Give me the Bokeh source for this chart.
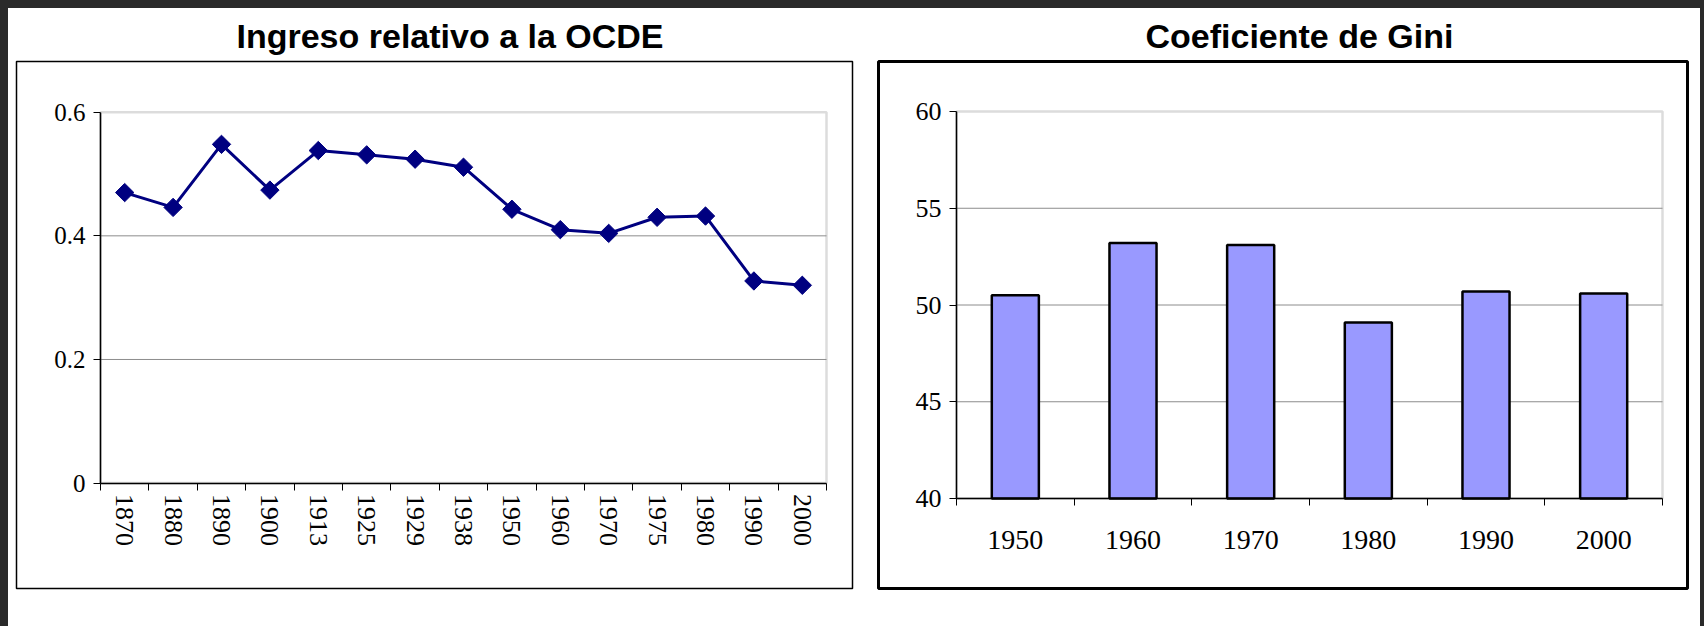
import math
from bokeh.plotting import figure
from bokeh.models import Range1d, FixedTicker, BoxAnnotation
from bokeh.layouts import row
from bokeh.embed import file_html
from bokeh.resources import INLINE

# ---------------- data ----------------
ingreso_years = ["1870", "1880", "1890", "1900", "1913", "1925", "1929", "1938",
                 "1950", "1960", "1970", "1975", "1980", "1990", "2000"]
ingreso_values = [0.470, 0.446, 0.548, 0.474, 0.538, 0.531, 0.524, 0.511,
                  0.443, 0.410, 0.404, 0.430, 0.432, 0.327, 0.320]
ingreso_ticks = [0.0, 0.2, 0.4, 0.6]
ingreso_tick_labels = ["0", "0.2", "0.4", "0.6"]

gini_years = ["1950", "1960", "1970", "1980", "1990", "2000"]
gini_values = [50.5, 53.2, 53.1, 49.1, 50.7, 50.6]
gini_ticks = [40.0, 45.0, 50.0, 55.0, 60.0]
gini_tick_labels = ["40", "45", "50", "55", "60"]

title_left = "Ingreso relativo a la OCDE"
title_right = "Coeficiente de Gini"

SERIF = "Liberation Serif"
SANS = "Liberation Sans"
GRAY = "#8c8c8c"
H = 618


def outer_range(d0, d1, p0, p1, f0, f1):
    # extend a data span [d0, d1] drawn at pixels [p0, p1] to the frame pixels [f0, f1]
    k = (d1 - d0) / (p1 - p0)
    return d0 + (f0 - p0) * k, d0 + (f1 - p0) * k


def make_chart(width, frame, area, cats, yticks, ylabels, title, box_width,
               xfont, yfont, xorient, xstandoff, title_offset):
    fl, fr, ft, fb = frame          # frame (= framed box) in figure pixels
    al, ar, at, ab = area           # plot area in figure pixels
    n = len(cats)
    y0, y1 = yticks[0], yticks[-1]
    xr = outer_range(0, n, al, ar, fl, fr)
    yr = outer_range(y0, y1, ab, at, fb, ft)
    p = figure(width=width, height=H, x_range=Range1d(*xr), y_range=Range1d(*yr),
               output_backend="svg", toolbar_location=None,
               min_border_left=fl, min_border_right=width - fr,
               min_border_top=ft, min_border_bottom=H - fb,
               background_fill_color="white", border_fill_color="white")
    # the framed box
    p.outline_line_color = "black"
    p.outline_line_width = box_width
    p.grid.visible = False

    # title
    p.title.text = title
    p.title.align = "left"
    p.title.offset = title_offset
    p.title.text_font = SANS
    p.title.text_font_style = "bold"
    p.title.text_font_size = "34px"
    p.title.text_color = "black"
    p.title.standoff = 13

    # plot area border (gray)
    p.add_layout(BoxAnnotation(left=0, right=n, bottom=y0, top=y1, fill_color="white",
                               line_color=GRAY, line_width=2.5, level="underlay"))
    # horizontal gridlines at the inner ticks
    inner = yticks[1:-1]
    p.segment(x0=[0] * len(inner), y0=inner, x1=[n] * len(inner), y1=inner,
              line_color=GRAY, line_width=1)

    centers = [i + 0.5 for i in range(n)]
    xa = p.xaxis[0]
    xa.fixed_location = y0
    xa.bounds = (0, n)
    xa.ticker = FixedTicker(ticks=centers, minor_ticks=list(range(n + 1)))
    xa.major_label_overrides = {c: lab for c, lab in zip(centers, cats)}
    xa.major_tick_line_color = None
    xa.major_tick_out = 0
    xa.major_tick_in = 0
    xa.minor_tick_line_color = "black"
    xa.minor_tick_out = 7
    xa.minor_tick_in = 0
    xa.axis_line_color = "black"
    xa.axis_line_width = 1.5
    xa.major_label_text_font = SERIF
    xa.major_label_text_font_size = xfont
    xa.major_label_text_color = "black"
    xa.major_label_orientation = xorient
    xa.major_label_standoff = xstandoff

    ya = p.yaxis[0]
    ya.fixed_location = 0
    ya.bounds = (y0, y1)
    ya.ticker = FixedTicker(ticks=yticks)
    ya.major_label_overrides = {t: lab for t, lab in zip(yticks, ylabels)}
    ya.major_tick_line_color = "black"
    ya.major_tick_out = 7
    ya.major_tick_in = 0
    ya.minor_tick_line_color = None
    ya.axis_line_color = "black"
    ya.axis_line_width = 1.5
    ya.major_label_text_font = SERIF
    ya.major_label_text_font_size = yfont
    ya.major_label_text_color = "black"
    ya.major_label_standoff = 8
    return p, centers


# ---------------- left chart ----------------
p1, c1 = make_chart(857, (8, 844, 52, 582), (92, 818, 103, 476),
                    ingreso_years, ingreso_ticks, ingreso_tick_labels, title_left, 1.5,
                    "26px", "25px", "vertical", 4, 220)
p1.line(c1, ingreso_values, line_color="#000080", line_width=3)
p1.scatter(c1, ingreso_values, marker="square", size=13, angle=math.pi / 4,
           fill_color="#000080", line_color="#000080")

# ---------------- right chart ----------------
p2, c2 = make_chart(835, (13, 822, 53, 580), (91, 797, 103, 490),
                    gini_years, gini_ticks, gini_tick_labels, title_right, 3,
                    "28px", "26px", "horizontal", 25, 267)
p2.vbar(x=c2, top=gini_values, bottom=gini_ticks[0], width=0.4, fill_color="#9999FF",
        line_color="black", line_width=2.5)

layout = row(p1, p2)

html = file_html(layout, INLINE)
html = html.replace(
    "</head>",
    "<style>html{background:#2a2a2a !important;overflow:hidden;}"
    "body{background:#ffffff !important;overflow:hidden;margin:8px 0 0 8px !important;"
    "padding:0 !important;width:1692px !important;height:618px !important;}</style></head>", 1)
open("out.html", "w").write(html)
